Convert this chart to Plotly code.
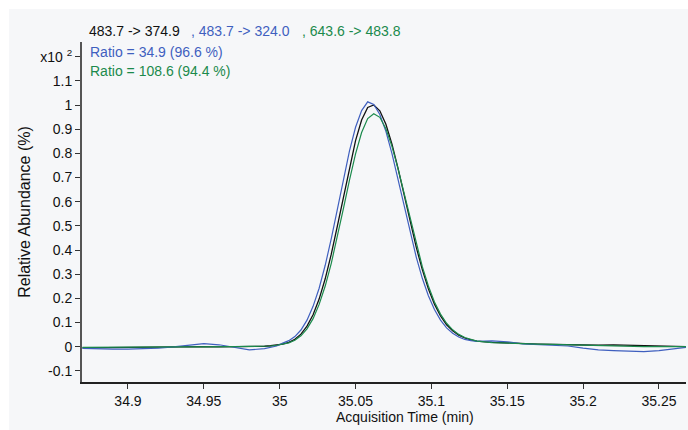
import plotly.graph_objects as go

# ---- data ----
time_min = [34.870, 34.880, 34.890, 34.900, 34.910, 34.920, 34.930, 34.940, 34.950, 34.960,
            34.970, 34.980, 34.990,
            34.994, 34.998, 35.002, 35.006, 35.010, 35.014, 35.018, 35.022, 35.026, 35.030,
            35.034, 35.038, 35.042, 35.046, 35.050, 35.054, 35.058, 35.062, 35.066, 35.070,
            35.074, 35.078, 35.082, 35.086, 35.090, 35.094, 35.098, 35.102, 35.106, 35.110,
            35.114, 35.118, 35.122, 35.126, 35.130,
            35.140, 35.150, 35.160, 35.170, 35.180, 35.190, 35.200, 35.210, 35.220, 35.230,
            35.240, 35.250, 35.260, 35.268]

ion_374 = [-0.005, -0.004, -0.003, -0.002, -0.002, -0.001, 0.000, 0.000, 0.000, -0.001,
           -0.001, 0.000, 0.002,
           0.004, 0.007, 0.011, 0.018, 0.031, 0.052, 0.085, 0.132, 0.197, 0.281,
           0.383, 0.499, 0.622, 0.744, 0.853, 0.938, 0.990, 1.000, 0.976, 0.920,
           0.838, 0.738, 0.628, 0.517, 0.412, 0.319, 0.240, 0.176, 0.127, 0.091,
           0.066, 0.048, 0.036, 0.028, 0.023,
           0.018, 0.015, 0.013, 0.011, 0.010, 0.008, 0.006, 0.006, 0.008, 0.006,
           0.003, 0.001, 0.000, 0.000]

ion_324 = [-0.007, -0.010, -0.010, -0.010, -0.009, -0.006, -0.001, 0.007, 0.013, 0.008,
           -0.003, -0.013, -0.008,
           -0.003, 0.003, 0.015, 0.025, 0.042, 0.069, 0.110, 0.167, 0.242, 0.337,
           0.447, 0.568, 0.693, 0.810, 0.908, 0.977, 1.013, 1.002, 0.961, 0.891,
           0.799, 0.693, 0.581, 0.471, 0.371, 0.283, 0.211, 0.154, 0.110, 0.078,
           0.056, 0.040, 0.030, 0.025, 0.022,
           0.024, 0.020, 0.012, 0.010, 0.008, 0.003, -0.006, -0.013, -0.016, -0.018,
           -0.020, -0.016, -0.008, -0.003]

ion_483 = [-0.003, -0.003, -0.002, -0.002, -0.001, -0.001, 0.000, 0.000, 0.000, 0.000,
           0.000, 0.001, 0.002,
           0.003, 0.006, 0.010, 0.016, 0.027, 0.045, 0.074, 0.116, 0.175, 0.251,
           0.345, 0.454, 0.571, 0.689, 0.798, 0.886, 0.944, 0.964, 0.949, 0.902,
           0.829, 0.737, 0.633, 0.526, 0.423, 0.331, 0.251, 0.185, 0.135, 0.097,
           0.070, 0.051, 0.038, 0.029, 0.023,
           0.017, 0.014, 0.012, 0.011, 0.010, 0.008, 0.006, 0.004, 0.003, 0.002,
           0.000, 0.000, 0.000, 0.000]

x_ticks = [34.9, 34.95, 35.0, 35.05, 35.1, 35.15, 35.2, 35.25]
x_tick_labels = ["34.9", "34.95", "35", "35.05", "35.1", "35.15", "35.2", "35.25"]
y_ticks = [-0.1, 0.0, 0.1, 0.2, 0.3, 0.4, 0.5, 0.6, 0.7, 0.8, 0.9, 1.0, 1.1, 1.2]
y_tick_labels = ["-0.1", "0", "0.1", "0.2", "0.3", "0.4", "0.5", "0.6", "0.7", "0.8",
                 "0.9", "1", "1.1", "x10 <sup>2</sup>"]

BLACK = "#111111"
BLUE = "#3f5fbf"
GREEN = "#1b8a4c"
PANEL = "#f6f7f9"
FONT = "Liberation Sans, Arial, sans-serif"

W, H = 688, 430
L, R, T, B = 82, 2, 42, 48
PW, PH = W - L - R, H - T - B


def xp(px):
    return (px - L) / PW


def yp(py):
    return (H - B - py) / PH


fig = go.Figure()
fig.add_trace(go.Scatter(x=time_min, y=ion_374, mode="lines",
                         line=dict(color=BLACK, width=1.3), name="483.7 -> 374.9"))
fig.add_trace(go.Scatter(x=time_min, y=ion_324, mode="lines",
                         line=dict(color=BLUE, width=1.2), name="483.7 -> 324.0"))
fig.add_trace(go.Scatter(x=time_min, y=ion_483, mode="lines",
                         line=dict(color=GREEN, width=1.2), name="643.6 -> 483.8"))

fig.add_shape(type="rect", xref="paper", yref="paper",
              x0=xp(9), x1=xp(700), y0=yp(440), y1=yp(9),
              fillcolor=PANEL, line=dict(width=0), layer="below")

annos = [
    dict(text="483.7 -> 374.9", x=xp(87), y=yp(31), color=BLACK),
    dict(text=", 483.7 -> 324.0", x=xp(189), y=yp(31), color=BLUE),
    dict(text=", 643.6 -> 483.8", x=xp(300), y=yp(31), color=GREEN),
    dict(text="Ratio = 34.9 (96.6 %)", x=xp(88), y=yp(52), color=BLUE),
    dict(text="Ratio = 108.6 (94.4 %)", x=xp(88), y=yp(71), color=GREEN),
]
for a in annos:
    fig.add_annotation(text=a["text"], x=a["x"], y=a["y"], xref="paper", yref="paper",
                       xanchor="left", yanchor="middle", showarrow=False,
                       font=dict(family=FONT, size=14, color=a["color"]))

fig.add_annotation(text="Acquisition Time (min)", x=xp(405), y=yp(417), xref="paper",
                   yref="paper", xanchor="center", yanchor="middle", showarrow=False,
                   font=dict(family=FONT, size=14, color=BLACK))

fig.update_xaxes(range=[34.8697, 35.2678], tickvals=x_ticks, ticktext=x_tick_labels,
                 showgrid=False, zeroline=False, showline=True, linecolor="#222222",
                 linewidth=1.5, ticks="outside", ticklen=5, tickcolor="#333333",
                 tickfont=dict(family=FONT, size=14, color="#111111"))
fig.update_yaxes(range=[-0.146, 1.2607], tickvals=y_ticks, ticktext=y_tick_labels,
                 showgrid=False, zeroline=False, showline=True, linecolor="#555555",
                 linewidth=2, ticks="outside", ticklen=5, tickcolor="#333333",
                 tickfont=dict(family=FONT, size=14, color="#111111"),
                 title=dict(text="Relative Abundance (%)", standoff=6,
                            font=dict(family=FONT, size=16, color=BLACK)))

fig.update_layout(width=W, height=H, margin=dict(l=L, r=R, t=T, b=B),
                  paper_bgcolor="white", plot_bgcolor="rgba(0,0,0,0)",
                  showlegend=False)

fig.write_html("out.html")
